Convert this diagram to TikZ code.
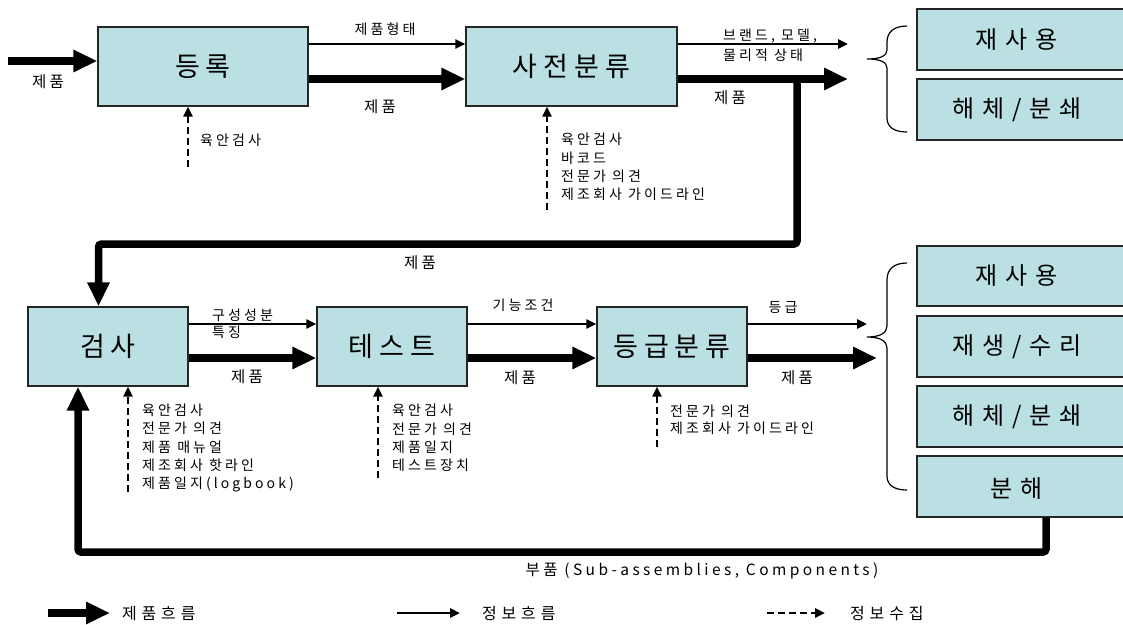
\documentclass[tikz,border=0pt]{standalone}
\usepackage{fontspec}
\setmainfont{Noto Sans CJK KR}
\newfontfamily\fbig[LetterSpace=22]{Noto Sans CJK KR}
\newfontfamily\fright[LetterSpace=33]{Noto Sans CJK KR}
\newfontfamily\fmid[LetterSpace=22]{Noto Sans CJK KR}
\newfontfamily\fsmall[LetterSpace=22]{Noto Sans CJK KR}
\newfontfamily\fwide[LetterSpace=30]{Noto Sans CJK KR}
\usetikzlibrary{arrows.meta}
\definecolor{boxfill}{RGB}{186,224,227}
\begin{document}
\begin{tikzpicture}[x=1pt,y=-1pt,
  box/.style={draw=black!85, line width=1.3pt, fill=boxfill, inner sep=0pt},
  bigtxt/.style={font=\fbig\fontsize{27}{30}\selectfont, inner sep=0pt},
  rtxt/.style={font=\fright\fontsize{24}{28}\selectfont, inner sep=0pt},
  lbl/.style={font=\fmid\fontsize{15.5}{18}\selectfont, inner sep=0pt},
  legtxt/.style={font=\fwide\fontsize{16}{18}\selectfont, inner sep=0pt, anchor=west},
  small/.style={font=\fsmall\fontsize{14}{17}\selectfont, inner sep=0pt},
  note/.style={font=\fsmall\fontsize{14}{18.3}\selectfont, inner sep=0pt, align=left, anchor=west},
  flow/.style={line width=7.5pt, -{Triangle[length=24pt,width=21pt]}},
  info/.style={line width=2.5pt, -{Triangle[length=10pt,width=9pt]}},
  coll/.style={line width=2.5pt, dash pattern=on 7pt off 4pt, -{Triangle[length=10pt,width=9pt]}},
  brace/.style={line width=1.2pt}
]
\useasboundingbox (0,0) rectangle (1123,624);

% ---------- main boxes ----------
\node[box, minimum width=210pt, minimum height=79pt] (reg) at (203,66.5) {};
\node[bigtxt] at (reg.center) {등록};
\node[box, minimum width=211pt, minimum height=79pt] (pre) at (571.5,66.5) {};
\node[bigtxt] at (pre.center) {사전분류};
\node[box, minimum width=160pt, minimum height=79pt] (insp) at (108,346.5) {};
\node[bigtxt] at (insp.center) {검사};
\node[box, minimum width=150pt, minimum height=79pt] (test) at (392,346.5) {};
\node[bigtxt] at (test.center) {테스트};
\node[box, minimum width=150pt, minimum height=79pt] (grade) at (672,346.5) {};
\node[bigtxt] at (grade.center) {등급분류};

% ---------- right boxes ----------
\node[box, minimum width=218pt, minimum height=61pt] (reuse1) at (1026,39.5) {};
\node[rtxt] at (1017,39.5) {재사용};
\node[box, minimum width=218pt, minimum height=61pt] (dis1) at (1026,109.5) {};
\node[rtxt] at (1017,109.5) {해체/분쇄};
\node[box, minimum width=218pt, minimum height=60pt] (reuse2) at (1026,276) {};
\node[rtxt] at (1017,276) {재사용};
\node[box, minimum width=218pt, minimum height=61pt] (reman) at (1026,346.5) {};
\node[rtxt] at (1017,346.5) {재생/수리};
\node[box, minimum width=218pt, minimum height=61pt] (dis2) at (1026,416.5) {};
\node[rtxt] at (1017,416.5) {해체/분쇄};
\node[box, minimum width=218pt, minimum height=61pt] (disas) at (1026,486.5) {};
\node[rtxt] at (1017,489) {분해};

% ---------- braces ----------
\draw[brace] (907,26) .. controls (894,26) and (887,32) .. (887,42) -- (887,50)
  .. controls (887,56) and (880,59) .. (867,59)
  .. controls (880,59) and (887,62) .. (887,68) -- (887,118)
  .. controls (887,127) and (894,132) .. (907,132);
\draw[brace] (907,263) .. controls (894,263) and (887,269) .. (887,280) -- (887,326)
  .. controls (887,333) and (880,337) .. (867,337)
  .. controls (880,337) and (887,341) .. (887,348) -- (887,476)
  .. controls (887,485) and (894,490) .. (907,490);

% ---------- flows, top row ----------
\coordinate (inS) at (8,61);
\draw[flow] (inS) -- (inS -| reg.west);
\draw[info] ([yshift=22.5pt]reg.east) -- ([yshift=22.5pt]pre.west);
\draw[flow] ([yshift=-12.5pt]reg.east) -- ([yshift=-12.5pt]pre.west);
\coordinate (preI) at (848,44);
\coordinate (preF) at (848,79);
\draw[info] ([yshift=22.5pt]pre.east) -- (preI);
\draw[flow] ([yshift=-12.5pt]pre.east) -- (preF);

% loop down to inspection
\coordinate (lA) at (797,79);
\coordinate (lB) at (797,244);
\coordinate (lC) at (98.5,244);
\draw[flow, rounded corners=3pt] (lA) -- (lB) -- (lC) -- ([xshift=-9.5pt]insp.north);

% ---------- flows, bottom row ----------
\draw[info] ([yshift=22.5pt]insp.east) -- ([yshift=22.5pt]test.west);
\draw[flow] ([yshift=-11.5pt]insp.east) -- ([yshift=-11.5pt]test.west);
\draw[info] ([yshift=22.5pt]test.east) -- ([yshift=22.5pt]grade.west);
\draw[flow] ([yshift=-11.5pt]test.east) -- ([yshift=-11.5pt]grade.west);
\coordinate (gI) at (867,324);
\coordinate (gF) at (877,358);
\draw[info] ([yshift=22.5pt]grade.east) -- (gI);
\draw[flow] ([yshift=-11.5pt]grade.east) -- (gF);

% return loop from disassembly
\coordinate (bB) at (1046,552);
\coordinate (bC) at (78,552);
\draw[flow, rounded corners=3pt] (disas.south -| bB) -- (bB) -- (bC) -- (insp.south -| bC);

% ---------- information gathering (dashed) ----------
\coordinate (d1) at (188,167);
\draw[coll] (d1) -- (d1 |- reg.south);
\coordinate (d2) at (547,210);
\draw[coll] (d2) -- (d2 |- pre.south);
\coordinate (d3) at (128,492);
\draw[coll] (d3) -- (d3 |- insp.south);
\coordinate (d4) at (378,478);
\draw[coll] (d4) -- (d4 |- test.south);
\coordinate (d5) at (657,447);
\draw[coll] (d5) -- (d5 |- grade.south);

% ---------- labels ----------
\node[lbl] at (48,82) {제품};
\node[small] at (385,29) {제품형태};
\node[lbl] at (380,107) {제품};
\node[note] at (200,140) {육안검사};
\node[note, font=\fsmall\fontsize{14}{20}\selectfont] at (723,45) {브랜드, 모델,\\물리적 상태};
\node[lbl] at (730,98) {제품};
\node[note] at (561,167) {육안검사\\바코드\\전문가 의견\\제조회사 가이드라인};
\node[lbl] at (420,263) {제품};
\node[note, font=\fsmall\fontsize{14}{17}\selectfont] at (212,323.5) {구성성분\\특징};
\node[lbl] at (247,377) {제품};
\node[note] at (142,448) {육안검사\\전문가 의견\\제품 매뉴얼\\제조회사 핫라인\\제품일지(logbook)};
\node[small] at (523,305) {기능조건};
\node[lbl] at (520,378) {제품};
\node[note] at (392,438) {육안검사\\전문가 의견\\제품일지\\테스트장치};
\node[small] at (783,307) {등급};
\node[lbl] at (797,378) {제품};
\node[note, font=\fsmall\fontsize{14}{17}\selectfont] at (670,420) {전문가 의견\\제조회사 가이드라인};
\node[lbl] at (702,571) {부품 (Sub-assemblies, Components)};

% ---------- legend ----------
\coordinate (lg1a) at (48,613);
\coordinate (lg1b) at (110,613);
\draw[flow] (lg1a) -- (lg1b);
\node[legtxt] at (122,613) {제품흐름};
\coordinate (lg2a) at (397,613);
\coordinate (lg2b) at (460,613);
\draw[info] (lg2a) -- (lg2b);
\node[legtxt] at (482,613) {정보흐름};
\coordinate (lg3a) at (767,613);
\coordinate (lg3b) at (825,613);
\draw[coll] (lg3a) -- (lg3b);
\node[legtxt] at (850,613) {정보수집};
\end{tikzpicture}
\end{document}
